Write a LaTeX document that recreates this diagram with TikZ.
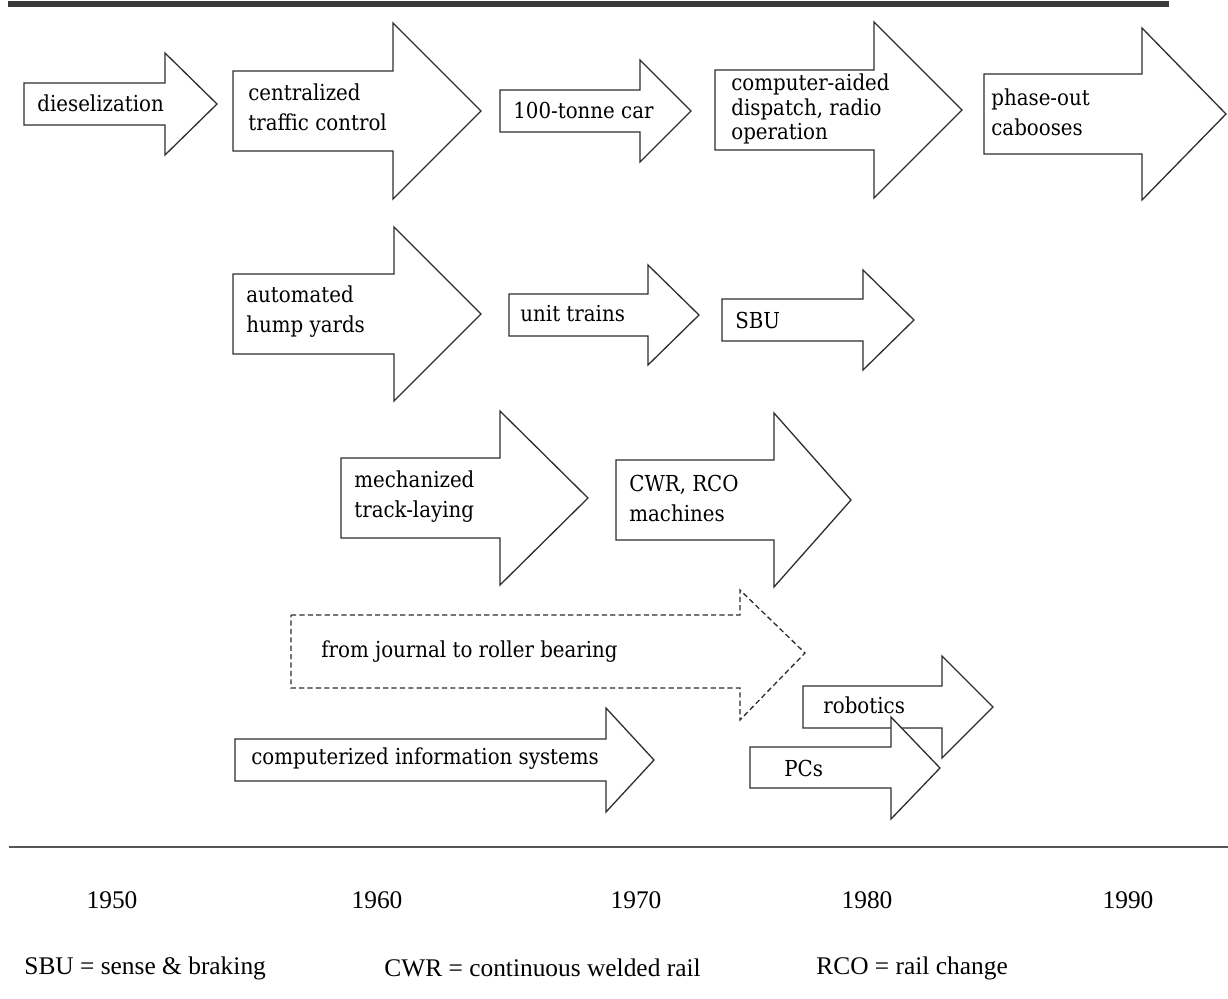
\documentclass[tikz,border=0pt]{standalone}
\usepackage{fontspec}
\newfontfamily\timesfont{Liberation Serif}
\newfontfamily\labelfont{DejaVu Serif Condensed}
\definecolor{inkgray}{HTML}{2E2E2E}
\definecolor{rulegray}{HTML}{3A3A3A}
\definecolor{axisgray}{HTML}{555555}

\begin{document}
\begin{tikzpicture}[
  x=0.5pt, y=-0.5pt,
  blockarrow/.style={draw=inkgray, line width=0.65pt, fill=white, line join=miter},
  arrowtext/.style={anchor=west, align=left, inner sep=0pt, text=black, font=\labelfont\fontsize{11}{15}\selectfont},
  yeartext/.style={inner sep=0pt, text=black, font=\timesfont\fontsize{12.7}{15}\selectfont},
]
\useasboundingbox (0,0) rectangle (1228,998);

% ===== Top rule =====
\draw[rulegray, line width=2.6pt] (8,4) -- (1169,4);

% ===== Row 1: operations =====
\draw[blockarrow] (24,83) -- (165,83) -- (165,53) -- (217,104) -- (165,155) -- (165,125) -- (24,125) -- cycle;
\node[arrowtext] (diesel) at (37,103) {dieselization};

\draw[blockarrow] (233,71) -- (393,71) -- (393,23) -- (481,111) -- (393,199) -- (393,151) -- (233,151) -- cycle;
\node[arrowtext] (ctc) at (248,107) {centralized\\traffic control};

\draw[blockarrow] (500,90) -- (640,90) -- (640,60) -- (691,111) -- (640,162) -- (640,132) -- (500,132) -- cycle;
\node[arrowtext] (tonne) at (513,110) {100-tonne car};

\draw[blockarrow] (715,70) -- (874,70) -- (874,22) -- (962,110) -- (874,198) -- (874,150) -- (715,150) -- cycle;
\node[arrowtext, font=\labelfont\fontsize{11}{12.4}\selectfont] (dispatch) at (731,109) {computer-aided\\dispatch, radio\\operation};

\draw[blockarrow] (984,74) -- (1142,74) -- (1142,28) -- (1226,114) -- (1142,200) -- (1142,154) -- (984,154) -- cycle;
\node[arrowtext] (caboose) at (991,112) {phase-out\\cabooses};

% ===== Row 2: yards =====
\draw[blockarrow] (233,274) -- (394,274) -- (394,227) -- (481,314) -- (394,401) -- (394,354) -- (233,354) -- cycle;
\node[arrowtext] (hump) at (246,312) {automated\\hump yards};

\draw[blockarrow] (509,294) -- (648,294) -- (648,265) -- (699,315) -- (648,365) -- (648,336) -- (509,336) -- cycle;
\node[arrowtext] (unit) at (520,314) {unit trains};

\draw[blockarrow] (722,299) -- (863,299) -- (863,270) -- (914,320) -- (863,370) -- (863,341) -- (722,341) -- cycle;
\node[arrowtext] (sbu) at (735,320) {SBU};

% ===== Row 3: track =====
\draw[blockarrow] (341,458) -- (500,458) -- (500,411) -- (588,498) -- (500,585) -- (500,538) -- (341,538) -- cycle;
\node[arrowtext] (mech) at (354,497) {mechanized\\track-laying};

\draw[blockarrow] (616,460) -- (774,460) -- (774,413) -- (851,500) -- (774,587) -- (774,540) -- (616,540) -- cycle;
\node[arrowtext] (cwr) at (629,498) {CWR, RCO\\machines};

% ===== Row 4: bearings, information =====
\draw[blockarrow, dash pattern=on 2.6pt off 1.6pt] (291,615) -- (740,615) -- (740,590) -- (805,653) -- (740,720) -- (740,688) -- (291,688) -- cycle;
\node[arrowtext] (bearing) at (321,652) {from journal to roller bearing};

\draw[blockarrow] (235,739) -- (606,739) -- (606,708) -- (654,760) -- (606,812) -- (606,781) -- (235,781) -- cycle;
\node[arrowtext] (cis) at (251,759) {computerized information systems};

\draw[blockarrow] (803,686) -- (942,686) -- (942,656) -- (993,707) -- (942,758) -- (942,728) -- (803,728) -- cycle;
\node[arrowtext] (robot) at (823,705) {robotics};

\draw[blockarrow] (750,747) -- (891,747) -- (891,717) -- (940,768) -- (891,819) -- (891,788) -- (750,788) -- cycle;
\node[arrowtext] (pcs) at (784,768) {PCs};

% ===== Time axis =====
\draw[axisgray, line width=0.75pt] (9,847) -- (1228,847);
\node[yeartext] (y1950) at (112,900) {1950};
\node[yeartext] (y1960) at (377,900) {1960};
\node[yeartext] (y1970) at (636,900) {1970};
\node[yeartext] (y1980) at (867,900) {1980};
\node[yeartext] (y1990) at (1128,900) {1990};

% ===== Legend =====
\node[yeartext, anchor=west] (keysbu) at (24,968) {SBU = sense \& braking};
\node[yeartext, anchor=west] (keycwr) at (384,968) {CWR = continuous welded rail};
\node[yeartext, anchor=west] (keyrco) at (816,968) {RCO = rail change};

\end{tikzpicture}
\end{document}
